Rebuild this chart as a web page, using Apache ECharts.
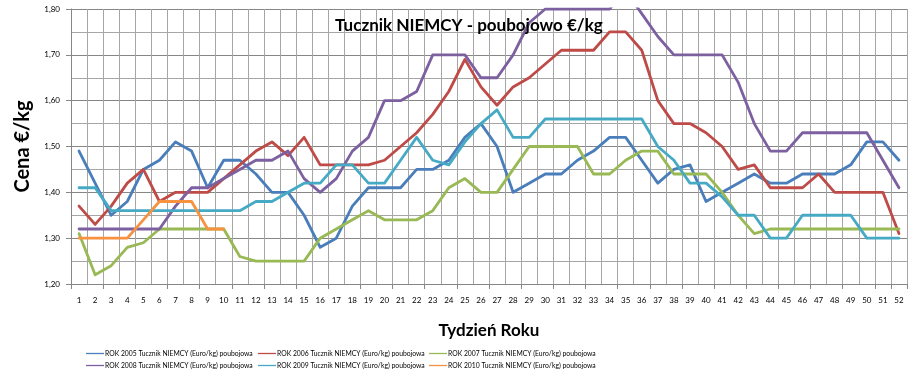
<!DOCTYPE html>
<html><head><meta charset="utf-8">
<script src="https://cdn.jsdelivr.net/npm/echarts/dist/echarts.min.js"></script>
<style>html,body{margin:0;padding:0;background:#fff}#c{width:920px;height:390px}</style>
</head><body><div id="c"></div><script>
const weeks = ['1','2','3','4','5','6','7','8','9','10','11','12','13','14','15','16','17','18','19','20','21','22','23','24','25','26','27','28','29','30','31','32','33','34','35','36','37','38','39','40','41','42','43','44','45','46','47','48','49','50','51','52'];
const seriesNames = ['ROK 2005 Tucznik NIEMCY (Euro/kg) poubojowa','ROK 2006 Tucznik NIEMCY (Euro/kg) poubojowa','ROK 2007 Tucznik NIEMCY (Euro/kg) poubojowa','ROK 2008 Tucznik NIEMCY (Euro/kg) poubojowa','ROK 2009 Tucznik NIEMCY (Euro/kg) poubojowa','ROK 2010 Tucznik NIEMCY (Euro/kg) poubojowa'];
const y2005 = [1.49,1.42,1.35,1.38,1.45,1.47,1.51,1.49,1.41,1.47,1.47,1.44,1.40,1.40,1.35,1.28,1.30,1.37,1.41,1.41,1.41,1.45,1.45,1.47,1.52,1.55,1.50,1.40,1.42,1.44,1.44,1.47,1.49,1.52,1.52,1.47,1.42,1.45,1.46,1.38,1.40,1.42,1.44,1.42,1.42,1.44,1.44,1.44,1.46,1.51,1.51,1.47];
const y2006 = [1.37,1.33,1.37,1.42,1.45,1.38,1.40,1.40,1.40,1.43,1.46,1.49,1.51,1.48,1.52,1.46,1.46,1.46,1.46,1.47,1.50,1.53,1.57,1.62,1.69,1.63,1.59,1.63,1.65,1.68,1.71,1.71,1.71,1.75,1.75,1.71,1.60,1.55,1.55,1.53,1.50,1.45,1.46,1.41,1.41,1.41,1.44,1.40,1.40,1.40,1.40,1.31];
const y2007 = [1.31,1.22,1.24,1.28,1.29,1.32,1.32,1.32,1.32,1.32,1.26,1.25,1.25,1.25,1.25,1.30,1.32,1.34,1.36,1.34,1.34,1.34,1.36,1.41,1.43,1.40,1.40,1.45,1.50,1.50,1.50,1.50,1.44,1.44,1.47,1.49,1.49,1.44,1.44,1.44,1.40,1.35,1.31,1.32,1.32,1.32,1.32,1.32,1.32,1.32,1.32,1.32];
const y2008 = [1.32,1.32,1.32,1.32,1.32,1.32,1.37,1.41,1.41,1.43,1.45,1.47,1.47,1.49,1.43,1.40,1.43,1.49,1.52,1.60,1.60,1.62,1.70,1.70,1.70,1.65,1.65,1.70,1.77,1.80,1.80,1.80,1.80,1.80,1.84,1.79,1.74,1.70,1.70,1.70,1.70,1.64,1.55,1.49,1.49,1.53,1.53,1.53,1.53,1.53,1.47,1.41];
const y2009 = [1.41,1.41,1.36,1.36,1.36,1.36,1.36,1.36,1.36,1.36,1.36,1.38,1.38,1.40,1.42,1.42,1.46,1.46,1.42,1.42,1.47,1.52,1.47,1.46,1.51,1.55,1.58,1.52,1.52,1.56,1.56,1.56,1.56,1.56,1.56,1.56,1.50,1.47,1.42,1.42,1.39,1.35,1.35,1.30,1.30,1.35,1.35,1.35,1.35,1.30,1.30,1.30];
const y2010 = [1.30,1.30,1.30,1.30,1.34,1.38,1.38,1.38,1.32,1.32];
const allData = [y2005,y2006,y2007,y2008,y2009,y2010];
const colors = ['#4A7EBB','#BE4B48','#98B954','#7D60A0','#46AAC5','#F69240'];
const titleText = 'Tucznik NIEMCY - poubojowo €/kg';
const yName = 'Cena €/kg';
const xName = 'Tydzień Roku';

const FONT = 'Lato, "Open Sans", sans-serif';
const legendPos = [[86,350],[258,350],[429,350],[86,362],[258,362],[429,362]];
const chart = echarts.init(document.getElementById('c'), null, {renderer:'canvas'});
chart.setOption({
  animation:false,
  backgroundColor:'#fff',
  color: colors,
  title:{text:titleText,left:330,top:12,textStyle:{fontFamily:FONT,fontWeight:'bold',fontSize:17,color:'#000'}},
  legend: seriesNames.map((n,i)=>({data:[n],left:legendPos[i][0],top:legendPos[i][1],icon:'rect',itemWidth:18,itemHeight:1.3,itemGap:2,padding:0,
    textStyle:{fontFamily:FONT,fontSize:6.8,color:'#000',padding:[0,0,0,-4]}})),
  grid:{left:71,right:13,top:9,bottom:106,containLabel:false},
  xAxis:{type:'category',data:weeks,boundaryGap:true,
    name:xName,nameLocation:'middle',nameGap:38,nameTextStyle:{fontFamily:FONT,fontWeight:'bold',fontSize:17,color:'#000'},
    axisLine:{show:true,lineStyle:{color:'#868686',width:1}},
    axisTick:{show:true,interval:1,length:5,lineStyle:{color:'#868686'}},
    axisLabel:{interval:0,fontFamily:FONT,fontSize:8,color:'#000',margin:12},
    splitLine:{show:true,interval:0,lineStyle:{color:'#A6A6A6',width:1}}},
  yAxis:{type:'value',min:1.2,max:1.8,interval:0.1,
    name:yName,nameLocation:'middle',nameRotate:90,nameGap:38,nameTextStyle:{fontFamily:FONT,fontWeight:'bold',fontSize:20,color:'#000'},
    axisLine:{show:true,lineStyle:{color:'#868686',width:1}},
    axisTick:{show:true,length:5,lineStyle:{color:'#868686'}},
    axisLabel:{fontFamily:FONT,fontSize:8,color:'#000',margin:11,formatter:v=>v.toFixed(2).replace('.',',')},
    splitLine:{show:true,lineStyle:{color:'#868686',width:1}},
    minorTick:{show:false,splitNumber:2},
    minorSplitLine:{show:true,lineStyle:{color:'#A6A6A6',width:1}}},
  series: allData.map((d,i)=>({name:seriesNames[i],type:'line',data:d,symbol:'none',showSymbol:false,clip:true,
    lineStyle:{width:2.8,color:colors[i],cap:'round',join:'round'},itemStyle:{color:colors[i]},emphasis:{disabled:true}}))
});
</script></body></html>
